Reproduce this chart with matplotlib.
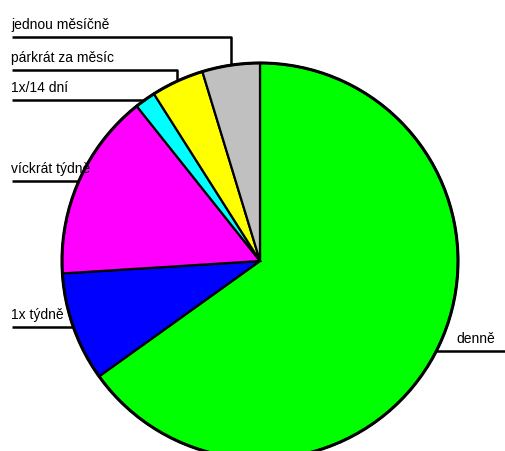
import numpy as np
import matplotlib.pyplot as plt

# data (percent)
labels = ['denně', '1x týdně', 'víckrát týdně', '1x/14 dní', 'párkrát za měsíc', 'jednou měsíčně']
values = [65.1, 8.9, 15.3, 1.7, 4.3, 4.7]
colors = ['#00ff00', '#0000ff', '#ff00ff', '#00ffff', '#ffff00', '#c0c0c0']
# height (px from top) of the label underline for the top labels, None = at the wedge
line_y = [None, None, None, None, 71, 38]

W, H = 505, 452
cx, cy, r = 260, H - 262, 198

plt.rcParams['font.family'] = ['Liberation Sans', 'DejaVu Sans']
fig = plt.figure(figsize=(W / 100, H / 100), dpi=100)
ax = fig.add_axes([0, 0, 1, 1])

wedges, _ = ax.pie(values, colors=colors, startangle=90, counterclock=False,
                   center=(cx, cy), radius=r, frame=True,
                   wedgeprops=dict(edgecolor='black', linewidth=1.6))
ax.set_xlim(0, W)
ax.set_ylim(0, H)
ax.set_aspect('equal')
ax.axis('off')
ax.add_patch(plt.Circle((cx, cy), r, fill=False, edgecolor='black', lw=2.2, zorder=5))

for w, lab, ly in zip(wedges, labels, line_y):
    mid = np.deg2rad((w.theta1 + w.theta2) / 2)
    px, py = cx + r * np.cos(mid), cy + r * np.sin(mid)
    if np.cos(mid) > 0:
        ax.plot([px, W], [py, py], color='black', lw=1.8, solid_capstyle='butt')
        ax.text(px + 20, py + 6, lab, fontsize=10, va='bottom', ha='left')
    else:
        yy = py if ly is None else H - ly
        ax.plot([12, px, px], [yy, yy, py], color='black', lw=1.8, solid_capstyle='butt')
        ax.text(11, yy + 6, lab, fontsize=10, va='bottom', ha='left')

fig.savefig('out.png', dpi=100)
